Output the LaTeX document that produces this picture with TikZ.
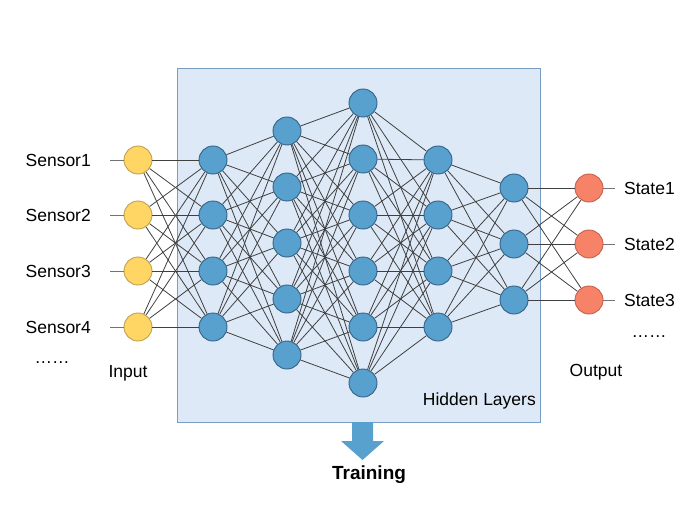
\documentclass[tikz,border=0pt]{standalone}
\usepackage{fontspec}
\setmainfont{Liberation Sans}
\usetikzlibrary{positioning}
\definecolor{boxfillc}{RGB}{221,233,246}
\definecolor{boxlinec}{RGB}{120,158,196}
\definecolor{inputc}{RGB}{255,214,100}
\definecolor{inputb}{RGB}{190,160,80}
\definecolor{hiddenc}{RGB}{88,160,205}
\definecolor{hiddenb}{RGB}{52,98,135}
\definecolor{outputc}{RGB}{246,130,104}
\definecolor{outputb}{RGB}{196,96,76}
\colorlet{edgec}{black!75}

\begin{document}
\begin{tikzpicture}[x=1pt,y=-1pt,
    neuron/.style={circle, draw, line width=0.9pt, minimum size=28pt, inner sep=0pt},
    edge/.style={draw=edgec, line width=0.8pt},
    lbl/.style={font=\fontsize{17.5}{20}\selectfont, text=black}]
        \useasboundingbox (0,0) rectangle (698,524);

        % hidden layers box
        \node[draw=boxlinec, fill=boxfillc, line width=0.8pt, anchor=north west, inner sep=0pt,
        minimum width=363pt, minimum height=354pt] (hidbox) at (177,68) {};

        % neurons
        \foreach \y [count=\i] in {160,215,271,327}
        \node[neuron, fill=inputc, draw=inputb] (in\i) at (138,\y) {};
        \foreach \y [count=\i] in {160,215,271,327}
        \node[neuron, fill=hiddenc, draw=hiddenb] (ha\i) at (213,\y) {};
        \foreach \y [count=\i] in {131,187,243,299,355}
        \node[neuron, fill=hiddenc, draw=hiddenb] (hb\i) at (287,\y) {};
        \foreach \y [count=\i] in {103,159,215,271,327,383}
        \node[neuron, fill=hiddenc, draw=hiddenb] (hc\i) at (363,\y) {};
        \foreach \y [count=\i] in {160,215,271,327}
        \node[neuron, fill=hiddenc, draw=hiddenb] (hd\i) at (438,\y) {};
        \foreach \y [count=\i] in {188,244,300}
        \node[neuron, fill=hiddenc, draw=hiddenb] (he\i) at (514,\y) {};
        \foreach \y [count=\i] in {188,244,300}
        \node[neuron, fill=outputc, draw=outputb] (out\i) at (589,\y) {};

        % connections
        \foreach \i in {1,...,4} \foreach \j in {1,...,4} \draw[edge] (in\i) -- (ha\j);
        \foreach \i in {1,...,4} \foreach \j in {1,...,5} \draw[edge] (ha\i) -- (hb\j);
        \foreach \i in {1,...,5} \foreach \j in {1,...,6} \draw[edge] (hb\i) -- (hc\j);
        \foreach \i in {1,...,6} \foreach \j in {1,...,4} \draw[edge] (hc\i) -- (hd\j);
        \foreach \i in {1,...,4} \foreach \j in {1,...,3} \draw[edge] (hd\i) -- (he\j);
        \foreach \i in {1,...,3} \foreach \j in {1,...,3} \draw[edge] (he\i) -- (out\j);

        % sensor and state labels
        \foreach \y [count=\i] in {160,215,271,327} {
        \node[lbl, anchor=east, inner xsep=19pt] (sen\i) at (110,\y) {Sensor\i};
        \draw[edge, draw=black!55] (sen\i) -- (in\i);
        }
        \foreach \y [count=\i] in {188,244,300} {
        \node[lbl, anchor=west, inner xsep=9pt] (sta\i) at (615,\y) {State\i};
        \draw[edge, draw=black!55] (out\i) -- (sta\i);
        }

        \node[lbl] (moresen) at (52,363) {……};
        \node[lbl] (morest) at (649,337) {……};
        \node[lbl] (inlbl) at (128,373) {Input};
        \node[lbl] (outlbl) at (596,372) {Output};
        \node[lbl, anchor=east, inner sep=0pt] (hidlbl) at (536,401) {Hidden Layers};

        % training arrow
        \fill[hiddenc] (352,422) -- (373,422) -- (373,441) -- (384,441) -- (362.5,460)
        -- (341,441) -- (352,441) -- cycle;
        \node[font=\fontsize{19}{22}\selectfont\bfseries] (train) at (369,475) {Training};

        \end{tikzpicture}
\end{document}
